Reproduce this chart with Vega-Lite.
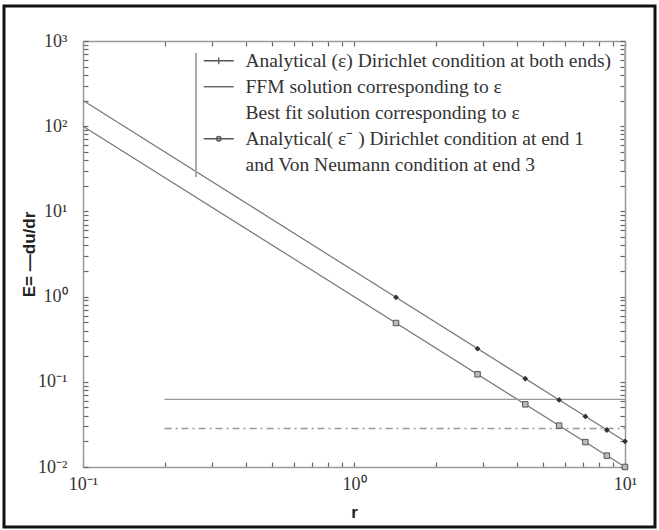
{
  "$schema": "https://vega.github.io/schema/vega-lite/v6.json",
  "width": 651,
  "height": 521,
  "autosize": "none",
  "padding": {"left": 4, "top": 6, "right": 4, "bottom": 3},
  "background": "white",
  "config": {
    "view": {"stroke": "#111", "strokeWidth": 3},
    "font": "Liberation Serif",
    "axis": {
      "domainColor": "#999",
      "domainWidth": 1.5,
      "tickColor": "#666",
      "tickWidth": 1.2,
      "tickSize": 5,
      "grid": false,
      "labelFont": "Liberation Serif",
      "labelFontSize": 18,
      "labelColor": "#333",
      "labelFlush": false,
      "labelBound": false,
      "labelOverlap": false,
      "titleFont": "Liberation Sans",
      "titleFontWeight": "bold",
      "titleFontSize": 17,
      "titleColor": "#222"
    },
    "legend": {
      "orient": "none",
      "legendX": 192,
      "legendY": 32,
      "padding": 13,
      "strokeColor": "#aaa",
      "strokeWidth": 2,
      "strokeDash": [0, 438, 124, 457, 124, 11],
      "labelFont": "Liberation Serif",
      "labelFontSize": 19.5,
      "labelColor": "#333",
      "labelLimit": 600,
      "labelOffset": 17,
      "rowPadding": 5,
      "symbolSize": 225,
      "symbolStrokeWidth": 1.3,
      "symbolOpacity": 1
    }
  },
  "datasets": {
    "lines": [
      {"name": "Analytical (ε) Dirichlet condition at both ends)", "r": 0.1, "E": 100},
      {"name": "Analytical (ε) Dirichlet condition at both ends)", "r": 10, "E": 0.01},
      {"name": "FFM solution corresponding to ε", "r": 0.2, "E": 0.0623},
      {"name": "FFM solution corresponding to ε", "r": 10, "E": 0.0623},
      {"name": "Best  fit solution corresponding to ε", "r": 0.2, "E": 0.0284},
      {"name": "Best  fit solution corresponding to ε", "r": 10, "E": 0.0284},
      {"name": "Analytical( ε⁻ ) Dirichlet condition at end 1", "r": 0.1, "E": 200},
      {"name": "Analytical( ε⁻ ) Dirichlet condition at end 1", "r": 10, "E": 0.02}
    ],
    "markers": [
      {"series": "lower", "r": 1.4286, "E": 0.49},
      {"series": "lower", "r": 2.857, "E": 0.1225},
      {"series": "lower", "r": 4.286, "E": 0.0544},
      {"series": "lower", "r": 5.714, "E": 0.0306},
      {"series": "lower", "r": 7.143, "E": 0.0196},
      {"series": "lower", "r": 8.571, "E": 0.0136},
      {"series": "lower", "r": 10, "E": 0.01},
      {"series": "upper", "r": 1.4286, "E": 0.98},
      {"series": "upper", "r": 2.857, "E": 0.245},
      {"series": "upper", "r": 4.286, "E": 0.1089},
      {"series": "upper", "r": 5.714, "E": 0.0613},
      {"series": "upper", "r": 7.143, "E": 0.0392},
      {"series": "upper", "r": 8.571, "E": 0.0272},
      {"series": "upper", "r": 10, "E": 0.02}
    ]
  },
  "resolve": {"axis": {"x": "independent", "y": "independent"}},
  "layer": [
    {
      "data": {"name": "lines"},
      "transform": [{"filter": "datum.name !== 'Best  fit solution corresponding to ε'"}],
      "mark": {"type": "line", "strokeWidth": 1.2},
      "encoding": {
        "x": {
          "field": "r", "type": "quantitative",
          "scale": {"type": "log", "domain": [0.1, 10], "range": [79, 621], "nice": false},
          "axis": {
            "orient": "top", "offset": -461,
            "title": "r", "titleY": 37, "titleBaseline": "top",
            "values": [0.1,0.2,0.3,0.4,0.5,0.6,0.7,0.8,0.9,1,2,3,4,5,6,7,8,9,10],
            "labelExpr": "datum.value==0.1?'10⁻¹':datum.value==1?'10⁰':datum.value==10?'10¹':''",
            "labelBaseline": "top",
            "labelPadding": -13
          }
        },
        "y": {
          "field": "E", "type": "quantitative",
          "scale": {"type": "log", "domain": [0.01, 1000], "range": [461, 35], "nice": false},
          "axis": {
            "orient": "right", "offset": -572,
            "title": "E= —du/dr", "titleAngle": 270, "titleBaseline": "bottom", "titleAlign": "center", "titleX": -45, "titleY": 248,
            "values": [0.01,0.02,0.03,0.04,0.05,0.06,0.07,0.08,0.09,0.1,0.2,0.3,0.4,0.5,0.6,0.7,0.8,0.9,1,2,3,4,5,6,7,8,9,10,20,30,40,50,60,70,80,90,100,200,300,400,500,600,700,800,900,1000],
            "labelExpr": "datum.value==1000?'10³':datum.value==100?'10²':datum.value==10?'10¹':datum.value==1?'10⁰':datum.value==0.1?'10⁻¹':datum.value==0.01?'10⁻²':''",
            "labelAlign": "right",
            "labelPadding": -21
          }
        },
        "detail": {"field": "name"},
        "color": {"condition": {"test": "datum.name === 'FFM solution corresponding to ε'", "value": "#999"}, "value": "#777"},
        "strokeWidth": {"condition": {"test": "datum.name === 'FFM solution corresponding to ε'", "value": 2}, "value": 1.2}
      }
    },
    {
      "data": {"name": "lines"},
      "transform": [{"filter": "datum.name === 'Best  fit solution corresponding to ε'"}],
      "mark": {"type": "line", "strokeWidth": 1.5, "strokeDash": [7, 4, 2, 4], "color": "#999"},
      "encoding": {
        "x": {
          "field": "r", "type": "quantitative",
          "axis": {
            "orient": "bottom", "offset": -486, "title": null, "labels": false,
            "values": [0.1,0.2,0.3,0.4,0.5,0.6,0.7,0.8,0.9,1,2,3,4,5,6,7,8,9,10]
          }
        },
        "y": {
          "field": "E", "type": "quantitative",
          "axis": {
            "orient": "left", "offset": -621, "title": null, "labels": false,
            "values": [0.01,0.02,0.03,0.04,0.05,0.06,0.07,0.08,0.09,0.1,0.2,0.3,0.4,0.5,0.6,0.7,0.8,0.9,1,2,3,4,5,6,7,8,9,10,20,30,40,50,60,70,80,90,100,200,300,400,500,600,700,800,900,1000]
          }
        }
      }
    },
    {
      "data": {"name": "markers"},
      "transform": [{"filter": "datum.series === 'lower'"}],
      "mark": {"type": "point", "shape": "square", "filled": true, "fill": "#bbb", "stroke": "#555", "strokeWidth": 1, "size": 30, "opacity": 1},
      "encoding": {
        "x": {"field": "r", "type": "quantitative", "axis": null},
        "y": {"field": "E", "type": "quantitative", "axis": null}
      }
    },
    {
      "data": {"name": "markers"},
      "transform": [{"filter": "datum.series === 'upper'"}],
      "mark": {"type": "point", "shape": "diamond", "filled": true, "color": "#333", "size": 34, "opacity": 1},
      "encoding": {
        "x": {"field": "r", "type": "quantitative", "axis": null},
        "y": {"field": "E", "type": "quantitative", "axis": null}
      }
    },
    {
      "data": {"name": "lines"},
      "mark": {"type": "point", "filled": false, "color": "#555", "strokeWidth": 1.3, "opacity": 0},
      "encoding": {
        "x": {"field": "r", "type": "quantitative", "axis": null},
        "y": {"field": "E", "type": "quantitative", "axis": null},
        "shape": {
          "field": "name", "type": "nominal",
          "scale": {
            "domain": [
              "Analytical (ε) Dirichlet condition at both ends)",
              "FFM solution corresponding to ε",
              "Best  fit solution corresponding to ε",
              "Analytical( ε⁻ ) Dirichlet condition at end 1",
              "and  Von Neumann condition at end 3"
            ],
            "range": [
              "M-2,0L2,0M0,-0.45L0,0.45",
              "M-2,0L2,0",
              "M0,0L0,0",
              "M-2,0L2,0M0.3,0A0.3,0.3,0,1,1,-0.3,0A0.3,0.3,0,1,1,0.3,0Z",
              "M0,0L0,0"
            ]
          },
          "legend": {"title": null}
        }
      }
    }
  ]
}
